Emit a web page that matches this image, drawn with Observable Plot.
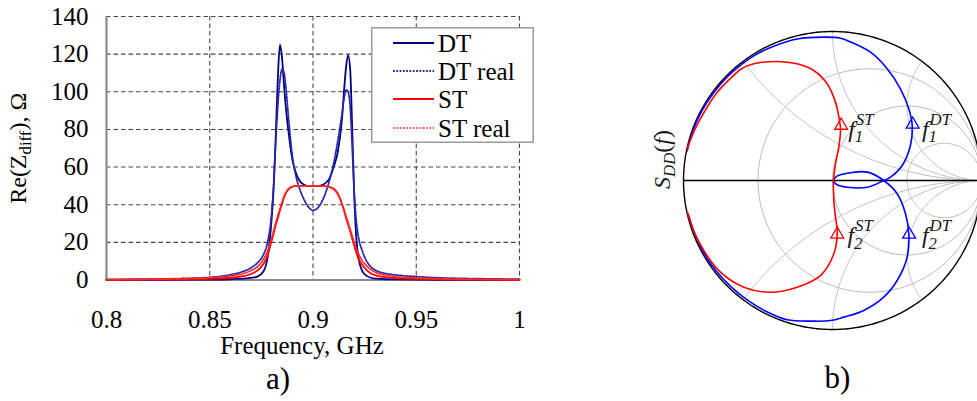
<!DOCTYPE html>
<html><head><meta charset="utf-8">
<script src="https://cdn.jsdelivr.net/npm/d3@7"></script>
<script src="https://cdn.jsdelivr.net/npm/@observablehq/plot@0.6"></script>
<style>
html,body{margin:0;padding:0;background:#fff;}
#wrap{position:relative;width:977px;height:401px;overflow:hidden;background:#fff;}
#left{position:absolute;left:0;top:0;}
#right{position:absolute;left:560px;top:0;}
#legend{position:absolute;left:371px;top:27px;}
svg text{font-family:'Liberation Serif','Times New Roman',serif;}
</style></head><body>
<div id="wrap"><div id="left"></div><div id="right"></div><div id="legend"></div></div>
<script>
// ---------- panel a) data ----------
const freq = [0.800,0.820,0.840,0.850,0.860,0.866,0.870,0.873,0.876,0.878,0.880,0.881,0.882,0.883,0.884,0.885,0.886,0.887,0.888,0.890,0.892,0.894,0.896,0.898,0.900,0.902,0.904,0.906,0.908,0.910,0.912,0.914,0.915,0.916,0.917,0.918,0.919,0.920,0.921,0.922,0.924,0.926,0.928,0.931,0.935,0.940,0.950,0.960,0.980,1.000];
const dtValues = [0.05,0.08,0.15,0.2,0.4,0.7,1.1,1.8,4.5,12,33,50,78,108,125,118,103,90,80,64,56,52,50.5,50,50,50,50.3,51.5,54,60,68,85,100,113,119.5,112,80,44,22,12,4.5,2.2,1.2,0.7,0.4,0.3,0.2,0.1,0.05,0.05];
const dtRealValues = [0.3,0.5,0.9,1.4,2.8,4.5,6.5,9,13.5,20,36,52,74,93,106,112,110,101,88,66,54,47,42,38.5,37,38,41,46,53,62,74,88,96,101,100,92,70,46,31,23,15,10,7,4.8,3.5,2.7,1.8,1.2,0.7,0.4];
const stValues = [0.1,0.2,0.4,0.6,1.2,2.0,3.2,5,8.5,13,21,25,29.5,33,37,40.5,44,46.5,48.3,49.6,50,50,50,50,50,50,50,49.8,49.5,48.5,46,40.5,37,33,29.5,26,22,18,14.5,11.5,7.8,5.2,3.5,2.3,1.5,1.0,0.6,0.4,0.2,0.1];
const stRealValues = [0.2,0.4,0.8,1.2,2.2,3.4,5,7,11,15.5,22.5,26.5,30.5,34.5,38,41.5,44.5,46.5,48,49.5,50,50,50,50,50,50,50,49.8,49.3,48.2,45.5,40.5,37.5,34,30.5,27,23.5,20,16.5,14,10,7.5,5.5,3.8,2.6,1.8,1.1,0.7,0.4,0.2];
const seriesNames = ["DT","DT real","ST","ST real"];
const seriesColors = ["#000080","#2a2aa6","#ff0000","#ff2a2a"];
const seriesDash = [null,"1.8,1.5",null,"1.8,1.5"];
const seriesWidth = [1.8,1.8,1.8,1.7];
const xTicks = [0.8,0.85,0.9,0.95,1.0];
const xTickLabels = ["0.8","0.85","0.9","0.95","1"];
const yTicks = [0,20,40,60,80,100,120,140];
const xTitle = ["Frequency, GHz"];
const yTitle = ["Re(Z_{diff}), Ω"];
const panelLabels = ["a)","b)"];

// ---------- panel b) data (reflection coefficient, Re / Im) ----------
const dtSdd = [[-0.975,0.200],[-0.935,0.340],[-0.875,0.470],[-0.800,0.585],[-0.712,0.690],[-0.610,0.780],[-0.500,0.853],[-0.399,0.900],[-0.237,0.950],[-0.058,0.962],[0.054,0.955],[0.121,0.930],[0.255,0.861],[0.367,0.750],[0.456,0.615],[0.512,0.481],[0.535,0.369],[0.523,0.235],[0.468,0.101],[0.389,0.022],[0.344,0.000],[0.233,-0.045],[0.099,-0.045],[0.027,-0.027],[0.009,0.000],[0.027,0.027],[0.099,0.049],[0.233,0.056],[0.344,0.000],[0.434,-0.089],[0.490,-0.223],[0.512,-0.358],[0.501,-0.515],[0.434,-0.671],[0.344,-0.783],[0.210,-0.872],[0.076,-0.917],[-0.013,-0.940],[-0.126,-0.944],[-0.304,-0.935],[-0.451,-0.876],[-0.575,-0.800],[-0.682,-0.712],[-0.777,-0.610],[-0.850,-0.510],[-0.920,-0.370],[-0.965,-0.235]];
const stSdd = [[-0.975,0.215],[-0.925,0.340],[-0.855,0.470],[-0.775,0.590],[-0.690,0.680],[-0.610,0.750],[-0.528,0.783],[-0.371,0.799],[-0.237,0.783],[-0.126,0.738],[-0.036,0.649],[0.020,0.526],[0.045,0.414],[0.054,0.340],[0.042,0.223],[0.020,0.114],[0.007,0.000],[0.009,-0.134],[0.020,-0.246],[0.032,-0.342],[0.009,-0.492],[-0.081,-0.638],[-0.237,-0.716],[-0.416,-0.750],[-0.595,-0.716],[-0.752,-0.615],[-0.864,-0.470],[-0.935,-0.330],[-0.972,-0.215]];
const markerRe = [0.058,0.032,0.538,0.514];
const markerIm = [0.369,-0.362,0.376,-0.362];
const markerColor = ["#ff0000","#ff0000","#0000ff","#0000ff"];
const labelRe = [0.105,0.100,0.600,0.600];
const labelIm = [0.345,-0.370,0.345,-0.370];
const labelText = ["f_{1}^{ST}","f_{2}^{ST}","f_{1}^{DT}","f_{2}^{DT}"];
const sddTitle = ["S_{DD}[(]f[)]"];
const resistanceGrid = [1/3, 1, 3];
const reactanceGrid = [0.5, 1, 2];

// ---------- helper: sub/superscript markup ----------
function richify(svgNode) {
  d3.select(svgNode).selectAll("text").each(function() {
    const el = this;
    const s = el.textContent;
    if (!/(_\{|\^\{|\[)/.test(s)) return;
    const tokens = [];
    let i = 0;
    while (i < s.length) {
      if ((s[i] === "_" || s[i] === "^") && s[i+1] === "{") {
        const j = s.indexOf("}", i);
        tokens.push({t: s.slice(i+2, j), k: s[i]}); i = j + 1;
      } else if (s[i] === "[") {
        const j = s.indexOf("]", i);
        tokens.push({t: s.slice(i+1, j), k: "u"}); i = j + 1;
      } else {
        let j = i;
        while (j < s.length && !(((s[j] === "_" || s[j] === "^") && s[j+1] === "{") || s[j] === "[")) j++;
        tokens.push({t: s.slice(i, j), k: "n"}); i = j;
      }
    }
    const fs = parseFloat(getComputedStyle(el).fontSize);
    el.textContent = "";
    let level = 0, prevSub = null;
    for (const tok of tokens) {
      const ts = d3.select(el).append("tspan").text(tok.t);
      if (tok.k === "_") {
        const sh = 0.22 * fs;
        ts.attr("font-size", (0.7 * fs) + "px").attr("dy", sh - level);
        level = sh; prevSub = ts;
      } else if (tok.k === "^") {
        const sh = -0.5 * fs;
        ts.attr("font-size", (0.7 * fs) + "px").attr("dy", sh - level);
        if (prevSub) ts.attr("dx", -prevSub.node().getComputedTextLength() + 1);
        level = sh; prevSub = null;
      } else {
        if (level !== 0) ts.attr("dy", -level);
        level = 0; prevSub = null;
        if (tok.k === "u") ts.attr("font-style", "normal");
      }
    }
  });
}

const serif = "'Liberation Serif', 'Times New Roman', serif";

// ---------- panel a) ----------
const seriesValues = [dtValues, dtRealValues, stValues, stRealValues];
const lineMarks = seriesValues.map((vals, k) =>
  Plot.line(freq.map((f, i) => ({f, v: vals[i]})), {
    x: "f", y: "v", curve: "monotone-x",
    stroke: seriesColors[k], strokeWidth: seriesWidth[k],
    strokeDasharray: seriesDash[k] ?? undefined
  })
);
const gridStyle = {stroke: "#474747", strokeOpacity: 1, strokeWidth: 1.1, strokeDasharray: "4.5,3"};
const left = Plot.plot({
  width: 560, height: 401,
  marginLeft: 106, marginRight: 41, marginTop: 16, marginBottom: 121.5,
  style: {fontFamily: serif, fontSize: "25px", background: "transparent", color: "#000"},
  x: {domain: [0.8, 1.0]},
  y: {domain: [0, 140]},
  marks: [
    Plot.gridY(yTicks.filter(v => v > 0), gridStyle),
    Plot.gridX(xTicks.filter(v => v > 0.8), gridStyle),
    Plot.ruleX([0.8], {stroke: "#8a8a8a", strokeWidth: 2.2}),
    Plot.ruleY([0], {stroke: "#8a8a8a", strokeWidth: 2.2}),
    ...lineMarks,
    Plot.axisX(xTicks, {tickSize: 0, tickPadding: 30, fontSize: 25, fontFamily: serif, fontVariant: "normal", label: null, tickFormat: d => xTickLabels[xTicks.indexOf(d)]}),
    Plot.axisY(yTicks, {tickSize: 0, tickPadding: 18, fontSize: 25, fontFamily: serif, fontVariant: "normal", label: null}),
    Plot.text(xTitle, {frameAnchor: "bottom", lineAnchor: "middle", dx: -11, dy: 66, fontSize: 25, fontFamily: serif}),
    Plot.text([panelLabels[0]], {frameAnchor: "bottom", lineAnchor: "middle", dx: -35, dy: 99, fontSize: 31, fontFamily: serif}),
    Plot.text(yTitle, {frameAnchor: "left", textAnchor: "middle", lineAnchor: "middle", rotate: -90, dx: -88, dy: 0, fontSize: 24, fontFamily: serif})
  ]
});
document.getElementById("left").appendChild(left);
richify(left);

// legend
(function() {
  const W = 163, H = 116;
  const svg = d3.select("#legend").append("svg").attr("width", W).attr("height", H)
    .style("font-family", serif).style("font-size", "25px");
  svg.append("rect").attr("x", 0.75).attr("y", 0.75).attr("width", W - 1.5).attr("height", H - 1.5)
    .attr("fill", "#fff").attr("stroke", "#9a9a9a").attr("stroke-width", 1.5);
  const rowY = [16, 44, 72, 101];
  seriesNames.forEach((name, k) => {
    svg.append("line").attr("x1", 22).attr("x2", 63).attr("y1", rowY[k]).attr("y2", rowY[k])
      .attr("stroke", seriesColors[k]).attr("stroke-width", seriesWidth[k])
      .attr("stroke-dasharray", seriesDash[k]);
    svg.append("text").attr("x", 67).attr("y", rowY[k]).attr("dy", "0.34em").text(name);
  });
})();

// ---------- panel b) Smith chart ----------
const gridPts = [];
resistanceGrid.forEach((r, k) => {
  const c = r / (1 + r), rad = 1 / (1 + r);
  d3.range(0, 361, 2).forEach(a => gridPts.push({x: c + rad * Math.cos(a * Math.PI / 180), y: rad * Math.sin(a * Math.PI / 180), id: "r" + k}));
});
reactanceGrid.forEach((xv, k) => {
  [xv, -xv].forEach((x, s) => {
    d3.range(0, 1.0001, 0.004).forEach(t => {
      if (t >= 1) { gridPts.push({x: 1, y: 0, id: "x" + k + s}); return; }
      const r = t / (1 - t);
      const D = (r + 1) * (r + 1) + x * x;
      gridPts.push({x: (r * r + x * x - 1) / D, y: 2 * x / D, id: "x" + k + s});
    });
  });
});
const outer = d3.range(0, 361, 1).map(a => [Math.cos(a * Math.PI / 180), Math.sin(a * Math.PI / 180)]);
const markers = markerRe.map((re, i) => ({re, im: markerIm[i], c: markerColor[i]}));
const labels = labelRe.map((re, i) => ({re, im: labelIm[i], t: labelText[i]}));

const right = Plot.plot({
  width: 417, height: 401,
  marginLeft: 123, marginRight: 0, marginTop: 31, marginBottom: 72,
  style: {fontFamily: serif, fontSize: "21px", background: "transparent", color: "#000"},
  x: {domain: [-1, 145 / 149], axis: null},
  y: {domain: [-1, 1], axis: null},
  marks: [
    Plot.line(gridPts, {x: "x", y: "y", z: "id", stroke: "#bcbcbc", strokeWidth: 1}),
    Plot.ruleY([0], {x1: -1, x2: 1, stroke: "#000", strokeWidth: 1.3}),
    Plot.line(outer, {stroke: "#000", strokeWidth: 1.4}),
    Plot.line(dtSdd, {curve: "catmull-rom", stroke: "#0000ff", strokeWidth: 1.6}),
    Plot.line(stSdd, {curve: "catmull-rom", stroke: "#ff0000", strokeWidth: 1.6}),
    Plot.dot(markers, {x: "re", y: "im", symbol: "triangle", r: 4.8, stroke: "c", fill: "none", strokeWidth: 1.3}),
    Plot.text(labels, {x: "re", y: "im", text: "t", textAnchor: "start", lineAnchor: "middle", fontStyle: "italic", fontSize: 24, fill: "#1a1a1a", fontFamily: serif}),
    Plot.text(sddTitle, {frameAnchor: "left", textAnchor: "middle", lineAnchor: "middle", rotate: -90, dx: -21, dy: -21, fontStyle: "italic", fontSize: 24, fill: "#1a1a1a", fontFamily: serif}),
    Plot.text([panelLabels[1]], {frameAnchor: "bottom", lineAnchor: "middle", dx: 7, dy: 49, fontSize: 31, fontFamily: serif})
  ]
});
document.getElementById("right").appendChild(right);
richify(right);
</script></body></html>
